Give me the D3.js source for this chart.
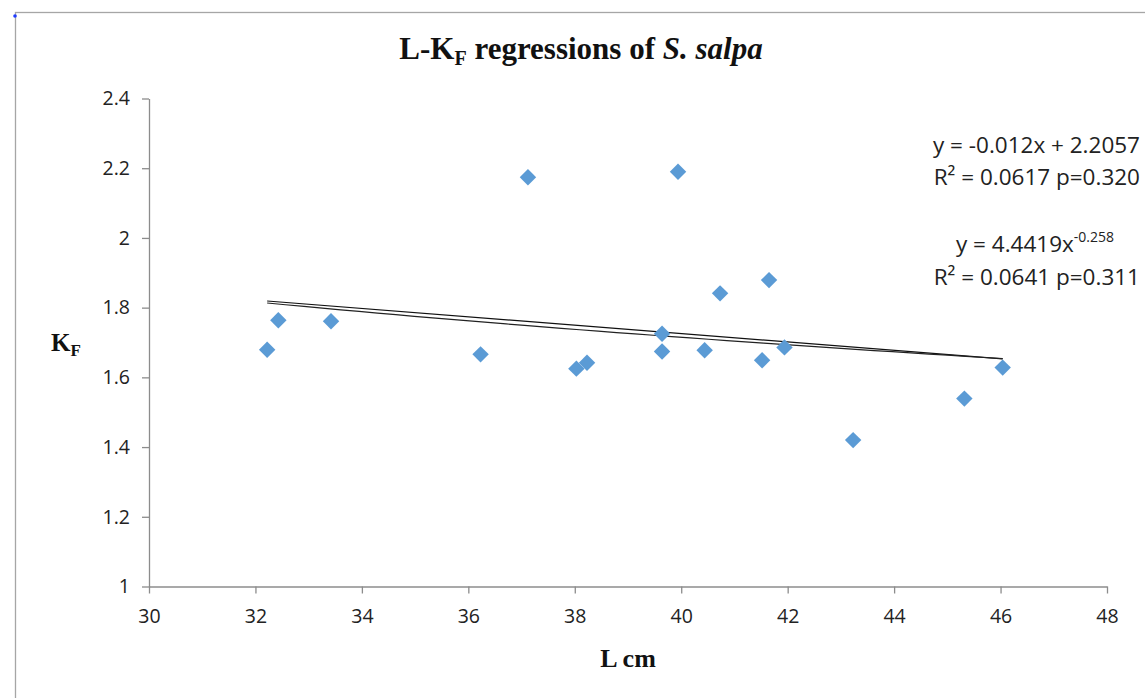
<!DOCTYPE html>
<html>
    <head>
        <meta charset="utf-8">
        <title>L-KF regressions of S. salpa</title>
        <script src="https://cdn.jsdelivr.net/npm/d3@7"></script>
        <style>
            body { margin: 0; background: white; }
            .axis .tick text { font-family: "Open Sans", sans-serif; font-size: 19.5px; fill: #222; }
            .axis path, .axis line { stroke: #8c8c8c; stroke-width: 1.3; }
            .eq { font-family: "Open Sans", sans-serif; font-size: 22.5px; fill: #222; }
            .lbl { font-family: "Liberation Serif", serif; font-weight: bold; fill: #111; }
        </style>
    </head>
    <body>
        <script>

            // Data: fish length (cm) and condition factor KF
            var lengths = [32.22, 32.43, 33.42, 36.23, 37.12, 38.03, 38.23, 39.64, 39.64,
                           39.94, 40.44, 40.73, 41.52, 41.65, 41.94, 43.23, 45.32, 46.04];
            var kf = [1.679, 1.764, 1.761, 1.666, 2.174, 1.625, 1.642, 1.725, 1.674,
                      2.19, 1.678, 1.841, 1.649, 1.879, 1.686, 1.42, 1.539, 1.628];

            // Tick values of both axes
            var xTicks = [30, 32, 34, 36, 38, 40, 42, 44, 46, 48];
            var yTicks = [1, 1.2, 1.4, 1.6, 1.8, 2, 2.2, 2.4];

            // Trendline coefficients as printed on the chart
            var linSlope = -0.012, linIntercept = 2.2057;
            var powA = 4.4419, powB = -0.258;

            var svg_width = 1145, svg_height = 698;
            var plot_left = 149, plot_right = 1107, plot_top = 98.5, plot_bottom = 586.5;

            var svg = d3.select("body").append("svg")
                        .attr("width", svg_width)
                        .attr("height", svg_height);

            // Chart area border
            svg.append("rect")
                .attr("x", 15.5).attr("y", 12.5)
                .attr("width", svg_width).attr("height", svg_height)
                .attr("fill", "white")
                .attr("stroke", "#a6a6a6")
                .attr("stroke-width", 1.3);
            svg.append("circle")
                .attr("cx", 15).attr("cy", 16).attr("r", 1.8)
                .attr("fill", "#1f3cff");

            var x = d3.scaleLinear().domain([30, 48]).range([plot_left, plot_right]);
            var y = d3.scaleLinear().domain([1, 2.4]).range([plot_bottom, plot_top]);

            // Axes
            svg.append("g")
                .attr("class", "axis")
                .attr("transform", "translate(0," + plot_bottom + ")")
                .call(d3.axisBottom(x).tickValues(xTicks).tickSize(7).tickSizeOuter(0).tickPadding(16));

            svg.append("g")
                .attr("class", "axis")
                .attr("transform", "translate(" + plot_left + ",0)")
                .call(d3.axisLeft(y).tickValues(yTicks).tickFormat(d3.format("")).tickSize(7).tickSizeOuter(0).tickPadding(12));

            // Trendlines, from smallest to largest length
            var x0 = d3.min(lengths), x1 = d3.max(lengths);
            var lineGen = d3.line().x(function(d) { return x(d[0]); }).y(function(d) { return y(d[1]); });

            var linPts = [x0, x1].map(function(v) { return [v, linSlope * v + linIntercept]; });
            var powPts = d3.range(0, 41).map(function(i) {
                var v = x0 + (x1 - x0) * i / 40;
                return [v, powA * Math.pow(v, powB)];
            });

            svg.append("path").attr("d", lineGen(linPts))
                .attr("fill", "none").attr("stroke", "#111").attr("stroke-width", 1.2);
            svg.append("path").attr("d", lineGen(powPts))
                .attr("fill", "none").attr("stroke", "#222").attr("stroke-width", 1.2);

            // Diamond markers
            var diamond = d3.symbol().type(d3.symbolSquare).size(135);
            svg.selectAll(".pt")
                .data(lengths)
                .enter()
                .append("path")
                .attr("class", "pt")
                .attr("d", diamond)
                .attr("transform", function(d, i) {
                    return "translate(" + x(d) + "," + y(kf[i]) + ") rotate(45)";
                })
                .attr("fill", "#5b9bd5");

            // Title
            var title = svg.append("text")
                .attr("class", "lbl")
                .attr("x", 581).attr("y", 59)
                .attr("text-anchor", "middle")
                .style("font-size", "31px");
            title.append("tspan").text("L-K");
            title.append("tspan").text("F").attr("dy", 6).style("font-size", "20px");
            title.append("tspan").text(" regressions of ").attr("dy", -6);
            title.append("tspan").text("S. salpa").style("font-style", "italic");

            // Axis titles
            var ylab = svg.append("text")
                .attr("class", "lbl")
                .attr("x", 51).attr("y", 351)
                .style("font-size", "25px");
            ylab.append("tspan").text("K");
            ylab.append("tspan").text("F").attr("dy", 5).style("font-size", "17px");

            svg.append("text")
                .attr("class", "lbl")
                .attr("x", 628).attr("y", 667)
                .attr("text-anchor", "middle")
                .style("font-size", "26px")
                .text("L cm");

            // Regression equations
            svg.append("text").attr("class", "eq")
                .attr("x", 1140).attr("y", 153).attr("text-anchor", "end")
                .text("y = -0.012x + 2.2057");
            svg.append("text").attr("class", "eq")
                .attr("x", 1140).attr("y", 185).attr("text-anchor", "end")
                .text("R² = 0.0617 p=0.320");

            var eq3 = svg.append("text").attr("class", "eq")
                .attr("x", 1035).attr("y", 252).attr("text-anchor", "middle");
            eq3.append("tspan").text("y = 4.4419x");
            eq3.append("tspan").text("-0.258").attr("dy", -10).style("font-size", "14px");

            svg.append("text").attr("class", "eq")
                .attr("x", 1140).attr("y", 285).attr("text-anchor", "end")
                .text("R² = 0.0641 p=0.311");

        </script>
    </body>
</html>
